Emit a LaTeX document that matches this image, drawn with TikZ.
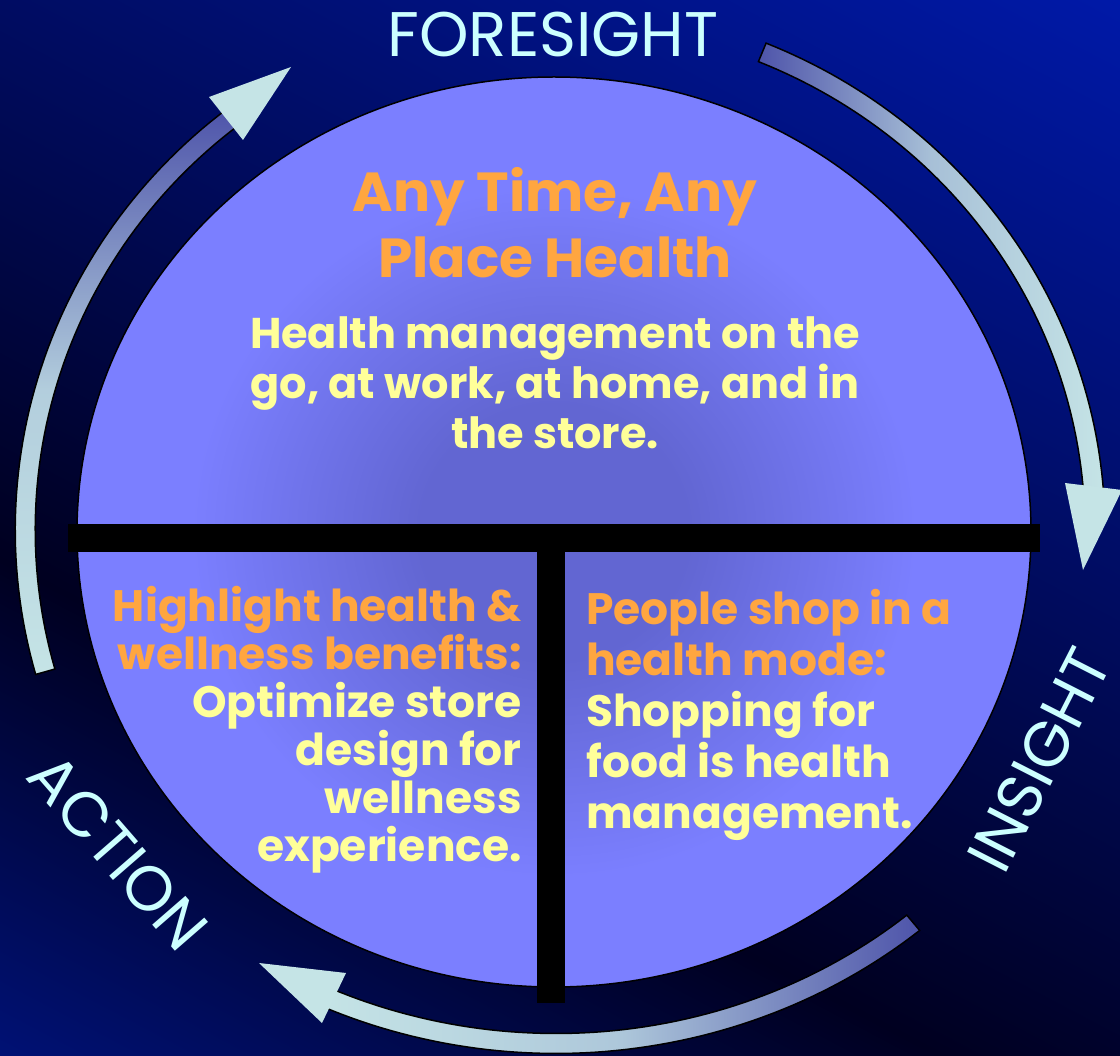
\documentclass[tikz,border=0pt]{standalone}
\usepackage{fontspec}
\setmainfont{Poppins}
\usetikzlibrary{calc}
\definecolor{bgT}{HTML}{0019A8}
\definecolor{bgD}{HTML}{000020}
\definecolor{bgA}{HTML}{00137E}
\definecolor{elL}{HTML}{7B7FFF}
\definecolor{elD}{HTML}{6266D2}
\definecolor{orng}{HTML}{FFA640}
\definecolor{yell}{HTML}{FFFF99}
\definecolor{cyn}{HTML}{CCFFFF}
\definecolor{headc}{HTML}{C5E4E6}
\definecolor{taild}{HTML}{4E54AA}
\pgfdeclareverticalshading{bgsh}{100bp}{color(0bp)=(bgA); color(38bp)=(bgA); color(50bp)=(bgD); color(75bp)=(bgT); color(100bp)=(bgT)}
\pgfdeclareradialshading{ellsh}{\pgfpoint{0bp}{0bp}}{color(0bp)=(elD); color(7bp)=(elD); color(19bp)=(elL); color(25bp)=(elL); color(50bp)=(elL)}
\tikzset{
  band/.style={draw=black, line width=1.5pt},
  headtri/.style={fill=headc},
  lbl/.style={font=\fontsize{63}{72}\selectfont, text=cyn, inner sep=0pt},
  ttl/.style={font=\bfseries\fontsize{55}{66}\selectfont, text=orng, inner sep=0pt},
  bodytxt/.style={font=\bfseries\fontsize{43}{50}\selectfont, text=yell, inner sep=0pt},
}
\begin{document}
\begin{tikzpicture}[x=1pt,y=-1pt]
\useasboundingbox (0,0) rectangle (1120,1056);
% background
\begin{scope}
  \clip (0,0) rectangle (1120,1056);
  \begin{scope}[transform canvas={rotate around={-27.8:(560,855)}}]
    \shade[shading=bgsh] (-700,-163) rectangle (1820,1873);
  \end{scope}
\end{scope}
% main ellipse
\shadedraw[shading=ellsh, draw=black, line width=1.5pt] (554,532) ellipse [x radius=477, y radius=455];
% T divider
\fill[black] (68,524) rectangle (1040,552);
\fill[black] (537,550) rectangle (565,1003);
% right arc (foresight -> insight)
\shade[band, left color=taild, right color=headc, middle color=headc!75!taild]
  plot[domain=-67.5:-4, samples=60, variable=\t] ({556+549*cos(\t)},{530+527*sin(\t)})
  -- plot[domain=-4:-67.5, samples=60, variable=\t] ({556+529*cos(\t)},{530+507*sin(\t)}) -- cycle;
\coordinate (h1a) at (1065,483);
\coordinate (h1b) at (1122,490);
\coordinate (h1t) at (1083,570);
\fill[headtri] (h1a) -- (h1b) -- (h1t) -- cycle;
% bottom arc (insight -> action)
\shade[band, left color=headc, right color=taild, middle color=headc!80!taild]
  plot[domain=49.9:114.5, samples=60, variable=\t] ({556+564.6*cos(\t)},{530+523.5*sin(\t)})
  -- plot[domain=114.5:49.9, samples=60, variable=\t] ({556+544.6*cos(\t)},{530+503.5*sin(\t)}) -- cycle;
\coordinate (h2a) at (346,973);
\coordinate (h2b) at (322,1023);
\coordinate (h2t) at (259,963);
\fill[headtri] (h2a) -- (h2b) -- (h2t) -- cycle;
% left arc (action -> foresight)
\shade[band, top color=taild, bottom color=headc, middle color=headc!85!taild]
  plot[domain=164.2:232.5, samples=60, variable=\t] ({556+540.8*cos(\t)},{530+530.6*sin(\t)})
  -- plot[domain=232.5:164.2, samples=60, variable=\t] ({556+520.8*cos(\t)},{530+510.6*sin(\t)}) -- cycle;
\coordinate (h3a) at (209,97);
\coordinate (h3b) at (243,140);
\coordinate (h3t) at (291,67);
\fill[headtri] (h3a) -- (h3b) -- (h3t) -- cycle;
% labels
\node[lbl, anchor=base] (fore) at (553,57) {FORESIGHT};
\node[lbl, rotate=63] (insi) at (1039,760) {INSIGHT};
\node[lbl, rotate=-49] (acti) at (118,852) {ACTION};
% texts (base anchor = baseline of the last line)
\node[ttl, align=center, anchor=base] (title) at (555,278) {Any Time, Any\\Place Health};
\node[bodytxt, align=center, anchor=base] (body) at (555,449) {Health management on the\\go, at work, at home, and in\\the store.};
\node[bodytxt, font=\bfseries\fontsize{44}{48}\selectfont, align=right, anchor=base east] (lblock) at (522,861)
  {\textcolor{orng}{Highlight health \&}\\\textcolor{orng}{wellness benefits:}\\Optimize store\\design for\\wellness\\experience.};
\node[bodytxt, font=\bfseries\fontsize{44}{51}\selectfont, align=left, anchor=base west] (rblock) at (586,828)
  {\textcolor{orng}{People shop in a}\\\textcolor{orng}{health mode:}\\Shopping for\\food is health\\management.};
\end{tikzpicture}
\end{document}
